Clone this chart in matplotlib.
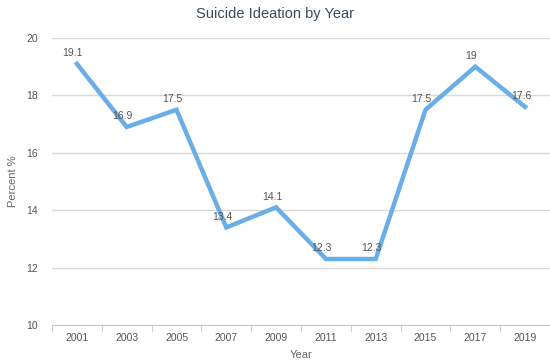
import matplotlib
matplotlib.use("Agg")
import matplotlib.pyplot as plt

years = ["2001", "2003", "2005", "2007", "2009", "2011", "2013", "2015", "2017", "2019"]
percent = [19.1, 16.9, 17.5, 13.4, 14.1, 12.3, 12.3, 17.5, 19, 17.6]
y_ticks = [10, 12, 14, 16, 18, 20]

plt.rcParams['font.family'] = ['Liberation Sans', 'DejaVu Sans']

fig = plt.figure(figsize=(5.5, 3.62), dpi=100)
ax = fig.add_axes([52 / 550, 1 - 325 / 362, 498 / 550, 287 / 362])

x = list(range(len(years)))
ax.plot(x, percent, color="#6aaee8", lw=3.2, solid_joinstyle="miter", zorder=3)

for xi, v in zip(x, percent):
    ax.annotate(f"{v:g}", (xi, v), xytext=(-3, 4), textcoords="offset points",
                ha="center", va="bottom", fontsize=7.5, color="#555555", zorder=4)

ax.set_xlim(-0.5, len(years) - 0.5)
ax.set_ylim(10, 20)
ax.set_yticks(y_ticks)
ax.set_yticklabels([str(t) for t in y_ticks])
ax.set_xticks(x)
ax.set_xticklabels(years)
ax.set_xticks([i - 0.5 for i in range(len(years) + 1)], minor=True)

ax.grid(axis="y", color="#d9d9d9", lw=1, zorder=0)
for s in ["top", "right", "left"]:
    ax.spines[s].set_visible(False)
ax.spines["bottom"].set_color("#c8c8c8")

ax.tick_params(axis="y", length=0, pad=10, labelsize=7.5, labelcolor="#555555")
ax.tick_params(axis="x", which="major", length=0, pad=6, labelsize=7.5, labelcolor="#555555")
ax.tick_params(axis="x", which="minor", length=5, color="#c8c8c8")

ax.set_xlabel("Year", fontsize=8, color="#666666", labelpad=5)
ax.set_ylabel("Percent %", fontsize=8, color="#666666")
ax.yaxis.set_label_coords(-34 / 498, 0.5)

fig.text(0.5, 1 - 14 / 362, "Suicide Ideation by Year", ha="center", va="center",
         fontsize=10.5, color="#3a4a5a")

fig.savefig("out.png", dpi=100)
